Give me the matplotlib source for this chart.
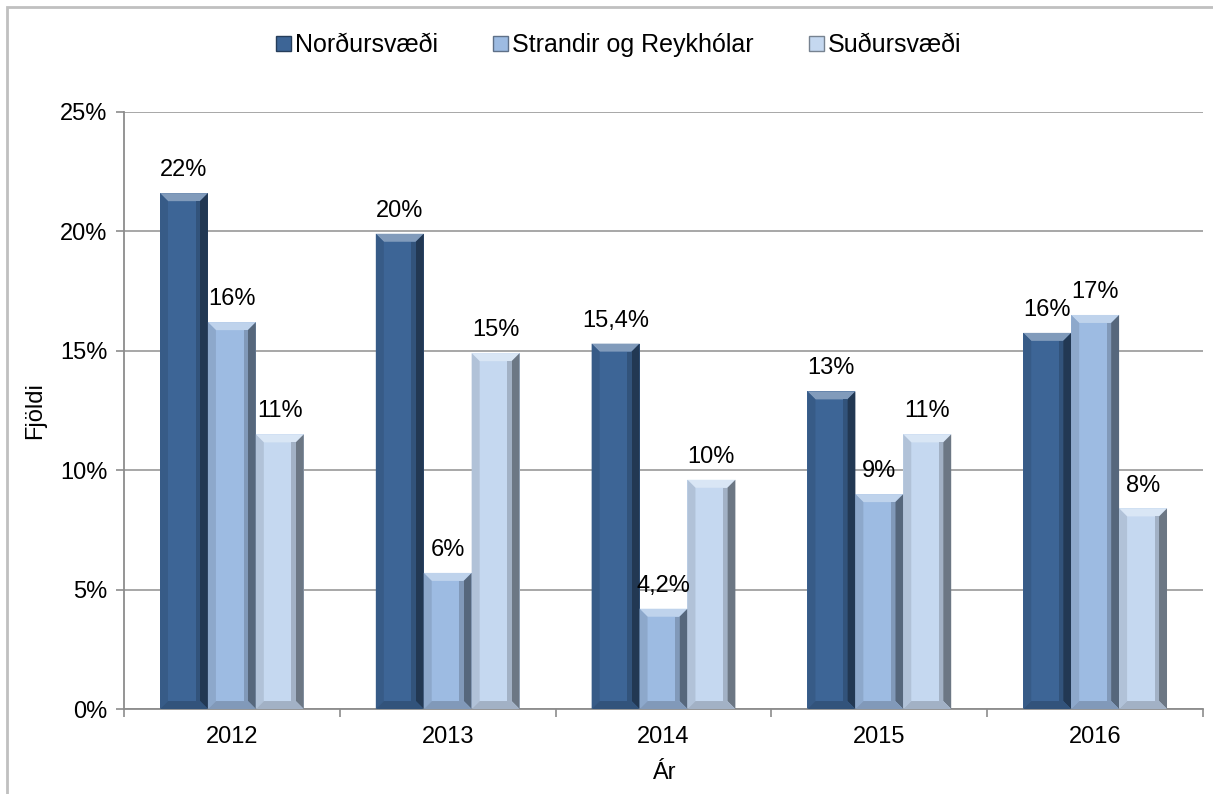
from matplotlib import pyplot as plt
from matplotlib.patches import Polygon, Patch, Rectangle
from matplotlib import colors as mcolors
import numpy as np

plt.rcParams['font.family'] = ['Liberation Sans', 'DejaVu Sans']

years = ['2012', '2013', '2014', '2015', '2016']
series = ['Norðursvæði', 'Strandir og Reykhólar', 'Suðursvæði']
nordur = [21.6, 19.9, 15.3, 13.3, 15.75]
strandir = [16.2, 5.7, 4.2, 9.0, 16.5]
sudur = [11.5, 14.9, 9.6, 11.5, 8.4]
labels_nordur = ['22%', '20%', '15,4%', '13%', '16%']
labels_strandir = ['16%', '6%', '4,2%', '9%', '17%']
labels_sudur = ['11%', '15%', '10%', '11%', '8%']
bar_colors = ['#3d6596', '#9dbbe2', '#c5d8f0']


def mix(c, other, t):
    a = np.array(mcolors.to_rgb(c))
    b = np.array(mcolors.to_rgb(other))
    return tuple(a * (1 - t) + b * t)


fig = plt.figure(figsize=(12.13, 7.94), dpi=100)
ax = fig.add_axes([0.1022, 0.107, 0.8896, 0.752])

x = np.arange(len(years))
w = 0.222
bx = 0.037   # bevel width in category units
by = 0.335   # bevel height in %

all_vals = [nordur, strandir, sudur]
all_labels = [labels_nordur, labels_strandir, labels_sudur]

for i, (vals, labs, col) in enumerate(zip(all_vals, all_labels, bar_colors)):
    bars = ax.bar(x + (i - 1) * w, vals, w, color=col, edgecolor='none', zorder=2)
    for b, lab in zip(bars, labs):
        x0, h, bw = b.get_x(), b.get_height(), b.get_width()
        x1 = x0 + bw
        # bevel faces
        ax.add_patch(Polygon([(x0, h), (x1, h), (x1 - bx, h - by), (x0 + bx, h - by)],
                             closed=True, color=mix(col, 'white', 0.35), lw=0, zorder=3))
        ax.add_patch(Polygon([(x1, h), (x1, 0), (x1 - bx, by), (x1 - bx, h - by)],
                             closed=True, color=mix(col, 'black', 0.45), lw=0, zorder=3))
        ax.add_patch(Polygon([(x0, h), (x0, 0), (x0 + bx, by), (x0 + bx, h - by)],
                             closed=True, color=mix(col, 'black', 0.1), lw=0, zorder=3))
        ax.add_patch(Polygon([(x0, 0), (x1, 0), (x1 - bx, by), (x0 + bx, by)],
                             closed=True, color=mix(col, 'black', 0.18), lw=0, zorder=3))
        ax.add_patch(Rectangle((x1 - bx - 0.02, by), 0.02, h - 2 * by,
                               color=mix(col, 'black', 0.18), lw=0, zorder=3))
        ax.annotate(lab, (b.get_x() + bw / 2, h), xytext=(0, 16.5), textcoords='offset points',
                    ha='center', va='center', fontsize=17, zorder=4)

ax.set_xlim(-0.5, len(years) - 0.5)
ax.set_ylim(0, 25)
ax.set_yticks(range(0, 26, 5))
ax.set_yticklabels(['{}%'.format(v) for v in range(0, 26, 5)])
ax.set_xticks(x)
ax.set_xticklabels(years)
ax.set_xticks(np.arange(-0.5, len(years)), minor=True)
ax.tick_params(axis='x', which='major', length=0, labelsize=17, pad=12)
ax.tick_params(axis='x', which='minor', length=6, color='#8c8c8c', width=1.2)
ax.tick_params(axis='y', length=6, color='#8c8c8c', width=1.2, labelsize=17, pad=6)

ax.grid(axis='y', color='#a0a0a0', linewidth=1.3, zorder=0)
ax.set_axisbelow(True)
for s in ['top', 'right']:
    ax.spines[s].set_visible(False)
for s in ['left', 'bottom']:
    ax.spines[s].set_color('#8c8c8c')
    ax.spines[s].set_linewidth(1.3)

ax.set_xlabel('Ár', fontsize=17, labelpad=10)
ax.set_ylabel('Fjöldi', fontsize=17, labelpad=10)

handles = [Patch(facecolor=c, edgecolor=mix(c, 'black', 0.4), linewidth=1.0) for c in bar_colors]
fig.legend(handles, series, loc='center', bbox_to_anchor=(0.51, 0.943), ncol=3, frameon=False,
           fontsize=18, handlelength=0.6, handleheight=0.6, handletextpad=0.15, columnspacing=2.2)

# outer frame
fig.patches.append(Rectangle((7 / 1213, -0.05), 1.1, 1 - 7 / 794 + 0.05, transform=fig.transFigure,
                             fill=False, edgecolor='#c0c0c0', linewidth=2.0, zorder=0))

plt.savefig('out.png', dpi=100)
